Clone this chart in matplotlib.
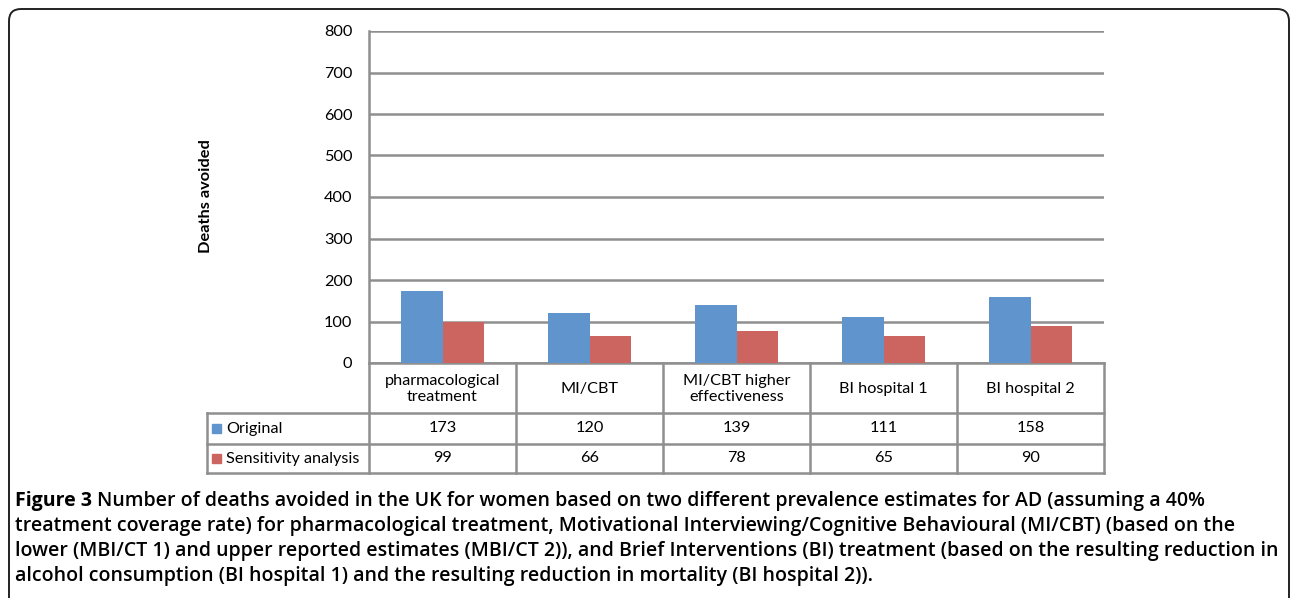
import matplotlib
matplotlib.use("Agg")
import matplotlib.pyplot as plt
from matplotlib.patches import FancyBboxPatch, Rectangle
import numpy as np

# data
categories = ["pharmacological\ntreatment", "MI/CBT", "MI/CBT higher\neffectiveness",
              "BI hospital 1", "BI hospital 2"]
original = [173, 120, 139, 111, 158]
sensitivity = [99, 66, 78, 65, 90]
series_names = ["Original", "Sensitivity analysis"]
y_ticks = [0, 100, 200, 300, 400, 500, 600, 700, 800]
caption_bold = "Figure 3"
caption_lines = [
    "Number of deaths avoided in the UK for women based on two different prevalence estimates for AD (assuming a 40%",
    "treatment coverage rate) for pharmacological treatment, Motivational Interviewing/Cognitive Behavioural (MI/CBT) (based on the",
    "lower (MBI/CT 1) and upper reported estimates (MBI/CT 2)), and Brief Interventions (BI) treatment (based on the resulting reduction in",
    "alcohol consumption (BI hospital 1) and the resulting reduction in mortality (BI hospital 2)).",
]

blue = "#6094cc"
red = "#cc6460"
grid_gray = "#8f8f8f"
W, H = 1292, 598
chart_font = "Lato"
cap_font = "Open Sans"
fs = 11.7
cap_fs = 14.0

fig = plt.figure(figsize=(W / 100, H / 100), dpi=100)

# overlay in pixel coordinates for frame, table and caption
ov = fig.add_axes([0, 0, 1, 1])
ov.set_xlim(0, W)
ov.set_ylim(H, 0)
ov.axis("off")

# rounded frame
ov.add_patch(FancyBboxPatch((9, 9), 1280, 640, boxstyle="round,pad=0,rounding_size=12",
                            fill=False, edgecolor="#222222", linewidth=1.4))

# plot area
left, right, top, bottom = 369, 1104, 31, 363
ax = fig.add_axes([left / W, 1 - bottom / H, (right - left) / W, (bottom - top) / H])
x = np.arange(len(categories))
bw = 0.28
ax.bar(x - bw / 2, original, bw, color=blue, zorder=3)
ax.bar(x + bw / 2, sensitivity, bw, color=red, zorder=3)
ax.set_xlim(-0.5, len(categories) - 0.5)
ax.set_ylim(0, 800)
ax.set_yticks(y_ticks)
ax.set_yticklabels([str(v) for v in y_ticks], fontsize=fs, family=chart_font)
ax.tick_params(axis="y", length=0, pad=12)
ax.set_xticks([])
ax.grid(axis="y", color=grid_gray, linewidth=1.8, zorder=0)
for s in ["top", "right", "bottom"]:
    ax.spines[s].set_visible(False)
ax.spines["left"].set_color(grid_gray)
ax.spines["left"].set_linewidth(1.8)
ax.patch.set_alpha(0)

ov.text(206, 196, "Deaths avoided", rotation=90, ha="center", va="center",
        fontsize=11.8, fontweight="bold", family=chart_font)

# data table
col_edges = np.linspace(left, right, len(categories) + 1)
rows = [363, 413, 444, 473]
tbl_left = 207
lc = dict(color=grid_gray, linewidth=1.8, zorder=5)
ov.plot([left, right], [rows[0], rows[0]], **lc)
for xe in col_edges:
    ov.plot([xe, xe], [rows[0], rows[3]], **lc)
for ye in rows[1:]:
    ov.plot([tbl_left, right], [ye, ye], **lc)
ov.plot([tbl_left, tbl_left], [rows[1], rows[3]], **lc)

centers = (col_edges[:-1] + col_edges[1:]) / 2
for cx, cat in zip(centers, categories):
    ov.text(cx, (rows[0] + rows[1]) / 2 + 1, cat, ha="center", va="center",
            fontsize=fs, family=chart_font, linespacing=1.1)

for r, (name, vals, col) in enumerate(zip(series_names, [original, sensitivity], [blue, red])):
    yc = (rows[r + 1] + rows[r + 2]) / 2
    ov.add_patch(Rectangle((212, yc - 5), 9, 9, color=col))
    ov.text(226, yc, name, ha="left", va="center", fontsize=fs, family=chart_font)
    for cx, v in zip(centers, vals):
        ov.text(cx, yc, str(v), ha="center", va="center", fontsize=fs, family=chart_font)

# caption
cap_y = [506, 531, 556, 581]
fig.canvas.draw()
renderer = fig.canvas.get_renderer()
tb = ov.text(15, cap_y[0], caption_bold + " ", ha="left", va="baseline", fontsize=cap_fs,
             fontweight="bold", family=cap_font)
bb = tb.get_window_extent(renderer=renderer)
ov.text(bb.x1, cap_y[0], caption_lines[0], ha="left", va="baseline", fontsize=cap_fs,
        fontweight="semibold", family=cap_font)
for yy, line in zip(cap_y[1:], caption_lines[1:]):
    ov.text(15, yy, line, ha="left", va="baseline", fontsize=cap_fs,
            fontweight="semibold", family=cap_font)

fig.savefig("out.png", dpi=100)
